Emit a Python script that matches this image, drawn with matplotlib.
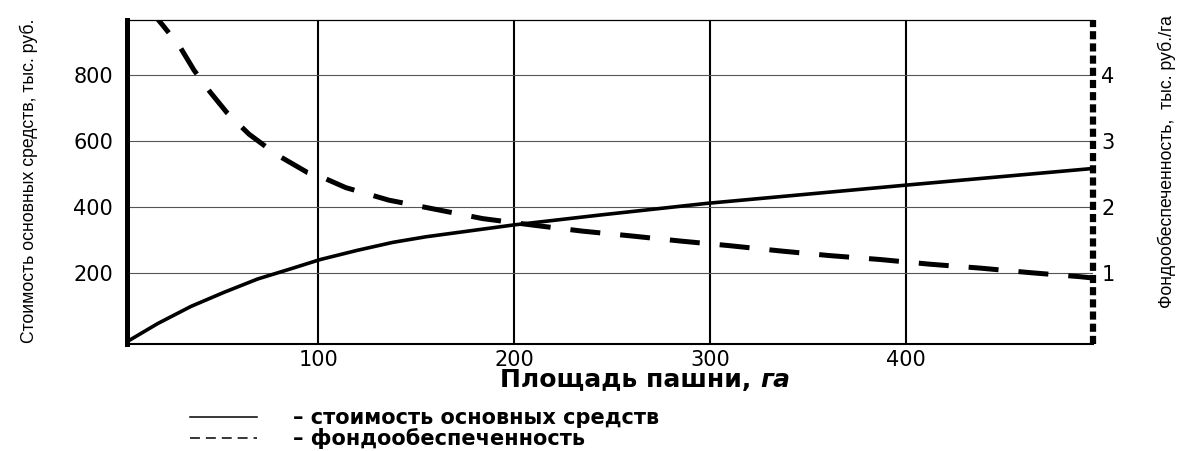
import matplotlib
matplotlib.use("Agg")
import matplotlib.pyplot as plt
from matplotlib.lines import Line2D
from matplotlib import font_manager

# ---------------- data ----------------
area_ticks = [100, 200, 300, 400]
cost_ticks = [200, 400, 600, 800]
fund_ticks = [1, 2, 3, 4]

# стоимость основных средств, тыс. руб. (left axis)
cost_x = [2.3, 18, 35, 52, 69, 86, 101, 120, 138, 155, 200, 244, 298, 401, 495.6]
cost_y = [-7, 48, 100, 143, 183, 214, 242, 270, 294, 311, 347, 377, 412, 468, 518]

# фондообеспеченность, тыс. руб./га (right axis)
fund_x = [14, 17.5, 20.3, 29, 36.5, 44.7, 53.5, 64.6, 78.7, 94.4, 101, 114,
          136, 160, 184, 210, 235, 259, 285, 310, 336, 361, 387, 412, 438,
          464, 489, 495.6]
fund_y = [5.00, 4.87, 4.77, 4.45, 4.08, 3.75, 3.43, 3.11, 2.80, 2.53, 2.47,
          2.30, 2.11, 1.97, 1.83, 1.73, 1.64, 1.57, 1.49, 1.42, 1.34, 1.27,
          1.21, 1.14, 1.08, 1.01, 0.95, 0.93]

xlabel_main = "Площадь пашни,"
xlabel_unit = "га"
ylabel_left = "Стоимость основных средств, тыс. руб."
ylabel_right = "Фондообеспеченность,  тыс. руб./га"
legend_labels = ["– стоимость основных средств", "– фондообеспеченность"]

# ---------------- fonts ----------------
names = {f.name for f in font_manager.fontManager.ttflist}
if "Liberation Sans Narrow" in names:
    narrow = dict(family="Liberation Sans Narrow", fontsize=15.5)
else:
    narrow = dict(family="Liberation Sans", fontsize=12.7)

plt.rcParams["font.family"] = "DejaVu Sans"

W, H = 1187, 451
fig = plt.figure(figsize=(W / 100, H / 100), dpi=100)
L, R, T, B = 127, 1093, 20, 344
ax = fig.add_axes([L / W, 1 - B / H, (R - L) / W, (B - T) / H])
ax2 = ax.twinx()

x0, x1 = 2.3, 495.6
y0, y1 = -14, 968
ax.set_xlim(x0, x1)
ax.set_ylim(y0, y1)
ax2.set_ylim(y0 / 200, y1 / 200)

ax.set_xticks(area_ticks)
ax.set_yticks(cost_ticks)
ax2.set_yticks(fund_ticks)
ax.tick_params(axis="x", length=0, pad=4.3, labelsize=15)
ax.tick_params(axis="y", length=0, pad=10, labelsize=15)
ax2.tick_params(axis="y", length=0, pad=6, labelsize=15)

ax.xaxis.grid(True, color="black", lw=1.5)
ax.yaxis.grid(True, color="#555555", lw=0.8)
ax.set_axisbelow(True)

# spines
ax.spines["left"].set_linewidth(3.6)
ax.spines["bottom"].set_linewidth(1.5)
ax.spines["top"].set_linewidth(0.9)
ax.spines["right"].set_visible(False)
for s in ("left", "top", "bottom"):
    ax2.spines[s].set_visible(False)
rs = ax2.spines["right"]
rs.set_linewidth(4.5)
rs.set_linestyle((0, (1.3, 0.65)))
rs.set_capstyle("butt")

# curves
ax.plot(cost_x, cost_y, color="black", lw=2.6, solid_capstyle="butt",
        solid_joinstyle="round", zorder=3)
ax2.plot(fund_x, fund_y, color="black", lw=3.6, ls=(0, (6, 4)),
         dash_capstyle="butt", dash_joinstyle="round", zorder=3)

# axis labels
ax.set_ylabel(ylabel_left, **narrow)
ax.yaxis.label.set_va("center")
ax.yaxis.set_label_coords((29 - L) / (R - L), (B - 181) / (B - T))
ax2.set_ylabel(ylabel_right, **narrow)
ax2.yaxis.label.set_va("center")
ax2.yaxis.set_label_coords((1167 - L) / (R - L), (B - 162) / (B - T))

# x label with italic unit
fig.canvas.draw()
r = fig.canvas.get_renderer()
xs = 18
t1 = fig.text(0, 1 - 380 / H, xlabel_main, fontsize=xs, fontweight="bold",
              va="center", ha="left")
t2 = fig.text(0, 1 - 380 / H, xlabel_unit, fontsize=xs, fontweight="bold",
              fontstyle="italic", va="center", ha="left")
w1 = t1.get_window_extent(r).width
w2 = t2.get_window_extent(r).width
gap = 0.35 * xs * 100 / 72
start = 645 - (w1 + gap + w2) / 2
t1.set_x(start / W)
t2.set_x((start + w1 + gap) / W)

# legend
fs = 15
em = fs * 100 / 72
handles = [Line2D([], [], color="black", lw=1.1),
           Line2D([], [], color="black", lw=1.1, ls=(0, (6.5, 3.9)))]
fig.legend(handles, legend_labels, loc="upper left",
           bbox_to_anchor=(190 / W, 1 - 408 / H), frameon=False,
           prop=dict(size=fs, weight="bold"), handlelength=67 / em,
           handletextpad=36 / em, labelspacing=0.0, borderpad=0,
           borderaxespad=0)

fig.savefig("out.png", dpi=100)
